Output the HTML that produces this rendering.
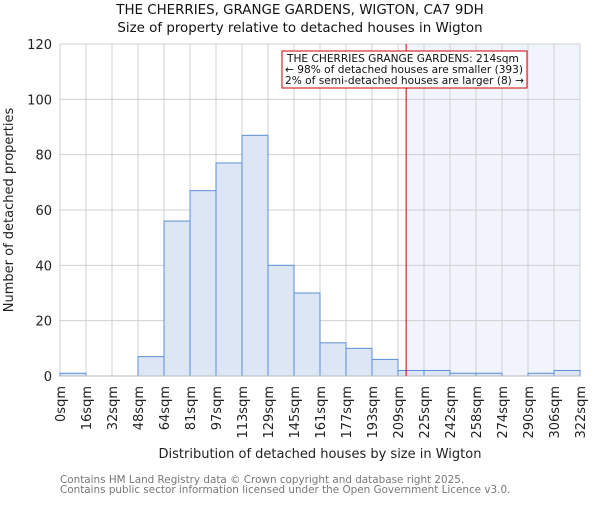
<!DOCTYPE html>
<html><head><meta charset="utf-8"><style>body{margin:0;background:#fff}svg{font-family:"DejaVu Sans","Liberation Sans",sans-serif}</style></head>
<body>
<svg id="c" width="600" height="500"></svg>
<script>
const categories=["0sqm","16sqm","32sqm","48sqm","64sqm","81sqm","97sqm","113sqm","129sqm","145sqm","161sqm","177sqm","193sqm","209sqm","225sqm","242sqm","258sqm","274sqm","290sqm","306sqm","322sqm"];
const counts=[1,0,0,7,56,67,77,87,40,30,12,10,6,2,2,1,1,0,1,2];
const yTicks=[0,20,40,60,80,100,120];
const subjectSize=214;
const binStart=209, binWidth=16;
const NS="http://www.w3.org/2000/svg";
const svg=document.getElementById('c');
const L=60,R=580,T=44,B=376,yMax=120;
const bw=(R-L)/counts.length;
const y=v=>B-(v/yMax)*(B-T);
const xb=i=>L+i*bw;
const xv=s=>{const i=13+(s-binStart)/binWidth;return xb(i);};
function add(tag,a,txt){const e=document.createElementNS(NS,tag);for(const k in a)e.setAttribute(k,a[k]);if(txt!=null)e.textContent=txt;svg.appendChild(e);return e;}
const sx=xv(subjectSize);
let e=add('rect',{x:sx,y:T,width:R-sx,height:B-T,fill:'#f1f4fc'});


for(let i=0;i<=counts.length;i++){e=add('line',{x1:xb(i),x2:xb(i),y1:T,y2:B,stroke:'#d0d0d0'});}
yTicks.forEach(t=>{e=add('line',{x1:L,x2:R,y1:y(t),y2:y(t),stroke:'#d0d0d0'});
e=add('text',{x:L-8,y:y(t)+5,'text-anchor':'end','font-size':13,fill:'#222'},t);});
counts.forEach((v,i)=>{if(v<=0)return;e=add('rect',{x:xb(i),y:y(v),width:bw,height:B-y(v),fill:'#dde6f4',stroke:'#5b8fd6','stroke-width':1});});
e=add('line',{x1:L,x2:R,y1:B,y2:B,stroke:'#bbb'});
categories.forEach((c,i)=>{const x=xb(i);e=add('text',{x:0,y:0,transform:`translate(${x+5},386) rotate(-90)`,'text-anchor':'end','font-size':13,fill:'#222'},c);});
e=add('line',{x1:sx,x2:sx,y1:T,y2:B,stroke:'#cc0000','stroke-width':1});
e=add('rect',{x:282,y:51,width:245,height:37,fill:'#fff',stroke:'#cc0000'});
["THE CHERRIES GRANGE GARDENS: 214sqm","← 98% of detached houses are smaller (393)","2% of semi-detached houses are larger (8) →"].forEach((t,i)=>{e=add('text',{x:i==0?287:285,y:62+i*11,'font-size':10.6,fill:'#111'},t);});
e=add('text',{x:300,y:14,'text-anchor':'middle','font-size':13.4,fill:'#111'},"THE CHERRIES, GRANGE GARDENS, WIGTON, CA7 9DH");
e=add('text',{x:300,y:32,'text-anchor':'middle','font-size':13.4,fill:'#111'},"Size of property relative to detached houses in Wigton");
e=add('text',{x:0,y:0,transform:'translate(13,210) rotate(-90)','text-anchor':'middle','font-size':13,fill:'#222'},"Number of detached properties");
e=add('text',{x:320,y:458,'text-anchor':'middle','font-size':13,fill:'#222'},"Distribution of detached houses by size in Wigton");
e=add('text',{x:60,y:483,'font-size':10.4,fill:'#777'},"Contains HM Land Registry data © Crown copyright and database right 2025.");
e=add('text',{x:60,y:493,'font-size':10.4,fill:'#777'},"Contains public sector information licensed under the Open Government Licence v3.0.");
</script>
</body></html>
